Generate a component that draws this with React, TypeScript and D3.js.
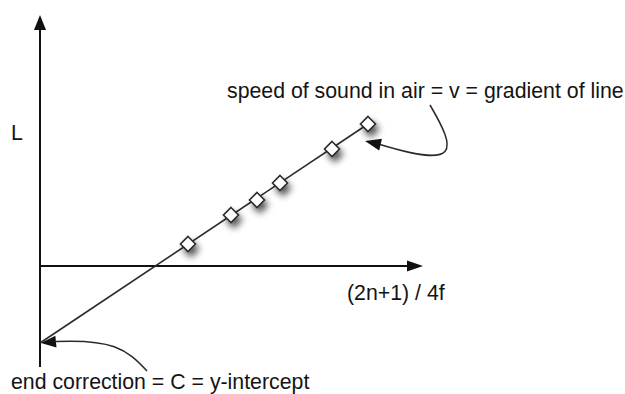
import React from "react";
import * as d3 from "d3";

// Measured points (abstract units) of L against (2n+1)/4f
const xValues = [3.7, 4.775, 5.425, 6.0, 7.3, 8.2];
const yValues = [0.55, 1.275, 1.65, 2.075, 2.925, 3.55];
// Best fit line endpoints: from the y-intercept (x = 0) to the last point
const fitX = [0, 8.2];
const fitY = [-1.925, 3.55];
// Axis extents
const xDomain = [0, 9.575];
const yDomain = [-2.525, 6.275];

const axisXLabel = "(2n+1) / 4f";
const axisYLabel = "L";
const gradientNote = "speed of sound in air = v = gradient of line";
const interceptNote = "end correction = C = y-intercept";

const W = 625;
const H = 394;
const FONT = "'Liberation Sans', Arial, Helvetica, sans-serif";

function arrowHead(tx: number, ty: number, bx: number, by: number, len = 15, half = 6) {
  const dx = tx - bx;
  const dy = ty - by;
  const d = Math.hypot(dx, dy);
  const ux = dx / d, uy = dy / d;
  const px = -uy, py = ux;
  const baseX = tx - ux * len, baseY = ty - uy * len;
  return `M${tx},${ty} L${baseX + px * half},${baseY + py * half} L${baseX - px * half},${baseY - py * half} Z`;
}

export default function App() {
  const x = d3.scaleLinear().domain(xDomain).range([40, 423]);
  const y = d3.scaleLinear().domain(yDomain).range([367, 15]);

  const x0 = x(0);
  const y0 = y(0);
  const points = xValues.map((v, i) => [x(v), y(yValues[i])] as [number, number]);
  const fitLine = d3.line()(fitX.map((v, i) => [x(v), y(fitY[i])] as [number, number]));

  const h = 7.5;
  const diamondPath = `M0,${-h} L${h},0 L0,${h} L${-h},0 Z`;

  // Annotation 1 anchored near last point
  const last = points[points.length - 1];
  const a1Tip: [number, number] = [last[0] - 3, last[1] + 17];
  const a1Base: [number, number] = [a1Tip[0] + 15, a1Tip[1] + 3.5];
  const a1Path = `M${a1Tip[0] + 65},${a1Tip[1] - 36} C${a1Tip[0] + 92},${a1Tip[1] + 10} ${a1Tip[0] + 95},${a1Tip[1] + 28} ${a1Base[0]},${a1Base[1]}`;

  // Annotation 2 anchored at y-intercept
  const ic: [number, number] = [x(fitX[0]) + 1, y(fitY[0])];
  const a2Base: [number, number] = [ic[0] + 15, ic[1] - 1.5];
  const a2Path = `M${ic[0] + 106},${ic[1] + 28} C${ic[0] + 85},${ic[1] + 5} ${ic[0] + 70},${ic[1] - 4} ${a2Base[0]},${a2Base[1]}`;

  const stroke = "#2a2a2a";

  return (
    <div style={{ position: "fixed", left: 0, top: 0, width: W, height: H, background: "#fff" }}>
      <svg width={W} height={H} viewBox={`0 0 ${W} ${H}`} style={{ display: "block" }}>
        <defs>
          <filter id="shadow" x="-150%" y="-150%" width="400%" height="400%">
            <feGaussianBlur in="SourceAlpha" stdDeviation="3.5" />
            <feOffset dx="3" dy="5" result="blur" />
            <feComponentTransfer>
              <feFuncA type="linear" slope="0.7" />
            </feComponentTransfer>
            <feMerge>
              <feMergeNode />
              <feMergeNode in="SourceGraphic" />
            </feMerge>
          </filter>
        </defs>
        <rect width={W} height={H} fill="#fff" />

        {/* Y axis */}
        <line x1={x0} y1={y(yDomain[0])} x2={x0} y2={y(yDomain[1]) + 14} stroke="#111" strokeWidth={2} />
        <path d={arrowHead(x0, y(yDomain[1]), x0, y(yDomain[1]) + 20, 15, 6)} fill="#111" />

        {/* X axis */}
        <line x1={x0} y1={y0} x2={x(xDomain[1]) - 14} y2={y0} stroke="#111" strokeWidth={2} />
        <path d={arrowHead(x(xDomain[1]), y0, x(xDomain[1]) - 20, y0, 16, 5.5)} fill="#111" />

        {/* Fit line */}
        <path d={fitLine ?? ""} fill="none" stroke={stroke} strokeWidth={1.6} />

        {/* Points */}
        {points.map((p, i) => (
          <path
            key={i}
            d={diamondPath}
            transform={`translate(${p[0]},${p[1]})`}
            fill="#fff"
            stroke={stroke}
            strokeWidth={1.6}
            filter="url(#shadow)"
          />
        ))}

        {/* Annotation: gradient */}
        <path d={a1Path} fill="none" stroke={stroke} strokeWidth={1.5} />
        <path d={arrowHead(a1Tip[0], a1Tip[1], a1Base[0], a1Base[1], 16, 6)} fill="#111" />

        {/* Annotation: intercept */}
        <path d={a2Path} fill="none" stroke={stroke} strokeWidth={1.5} />
        <path d={arrowHead(ic[0], ic[1], a2Base[0] + 1, a2Base[1], 15, 6)} fill="#111" />

        {/* Labels */}
        <g fontFamily={FONT} fontSize={21.3} fill="#141414">
          <text x={11} y={140}>{axisYLabel}</text>
          <text x={347} y={300}>{axisXLabel}</text>
          <text x={227} y={98}>{gradientNote}</text>
          <text x={11} y={389}>{interceptNote}</text>
        </g>
      </svg>
    </div>
  );
}
